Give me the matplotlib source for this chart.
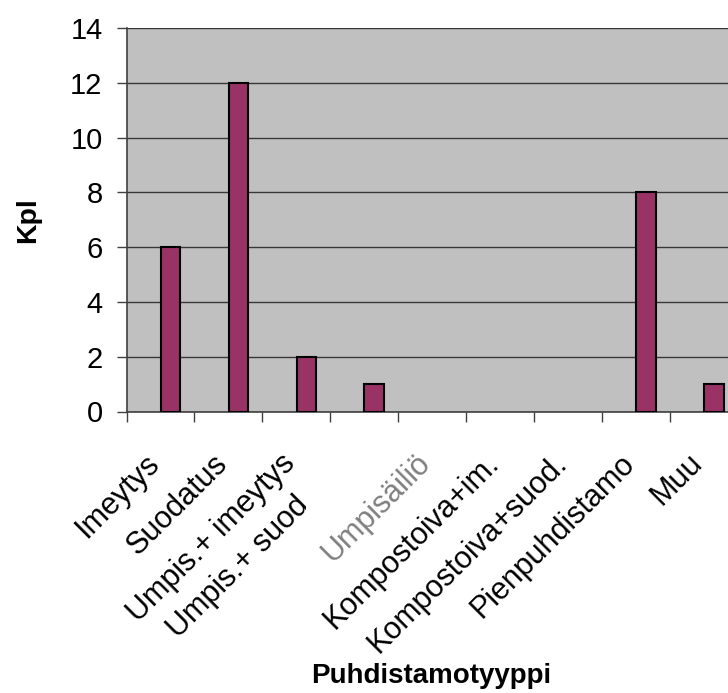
import matplotlib
matplotlib.use("Agg")
import matplotlib.pyplot as plt
import matplotlib.transforms as mtransforms
from matplotlib.patches import Rectangle

categories = ["Imeytys", "Suodatus", "Umpis.+ imeytys", "Umpis.+ suod", "Umpisäiliö",
              "Kompostoiva+im.", "Kompostoiva+suod.", "Pienpuhdistamo", "Muu"]
values = [6, 12, 2, 1, 0, 0, 0, 8, 1]
yticks = [0, 2, 4, 6, 8, 10, 12, 14]

plt.rcParams['font.family'] = ['Liberation Sans', 'DejaVu Sans']

W, H = 728, 693
fig = plt.figure(figsize=(W / 100, H / 100), dpi=100)
left_px, right_px, top_px, bot_px = 126.5, 737.5, 28, 411.5
ax = fig.add_axes([left_px / W, (H - bot_px) / H, (right_px - left_px) / W, (bot_px - top_px) / H])
ax.set_facecolor('#C0C0C0')

n = len(categories)
xs = [i + 0.65 for i in range(n)]
edges = ['black' if v != 0 else 'none' for v in values]
ax.bar(xs, values, width=0.29, color='#993366', edgecolor=edges, linewidth=1.5, zorder=3)

ax.set_xlim(0, n)
ax.set_ylim(0, 14)
ax.set_yticks(yticks)
ax.set_yticklabels([str(v) for v in yticks], fontsize=21)
ax.set_xticks(list(range(n + 1)))
ax.set_xticklabels([])
ax.tick_params(axis='both', direction='out', length=7.2, width=1, color='#404040')
ax.tick_params(axis='y', pad=10)
ax.yaxis.grid(True, color='#383838', linewidth=1)
ax.set_axisbelow(True)
for s in ['top', 'right']:
    ax.spines[s].set_visible(False)
for s in ['left', 'bottom']:
    ax.spines[s].set_color('#404040')
    ax.spines[s].set_linewidth(1.2)

for i, lab in enumerate(categories):
    dx, dy = 0, -53
    color = 'black'
    if lab == "Umpis.+ suod":
        dx, dy = -54, -95
    if lab == "Umpisäiliö":
        color = '#7f7f7f'
    tr = mtransforms.offset_copy(ax.transData, fig=fig, x=dx, y=dy, units='dots')
    t = ax.text(i + 0.5, 0, lab, transform=tr, rotation=45, rotation_mode='anchor',
                ha='right', va='baseline', fontsize=22, color=color, clip_on=False)
    if lab == "Umpis.+ suod":
        clip = Rectangle((0, 0), 306, H, transform=mtransforms.IdentityTransform(),
                         facecolor='none', edgecolor='none')
        t.set_clip_path(clip)
        t.set_clip_on(True)

fig.text(28 / W, 1 - 220 / H, "Kpl", rotation=90, ha='center', va='center',
         fontsize=20.5, fontweight='bold')
fig.text(431 / W, 1 - 676 / H, "Puhdistamotyyppi", ha='center', va='center',
         fontsize=20, fontweight='bold')

fig.savefig("out.png", dpi=100)
